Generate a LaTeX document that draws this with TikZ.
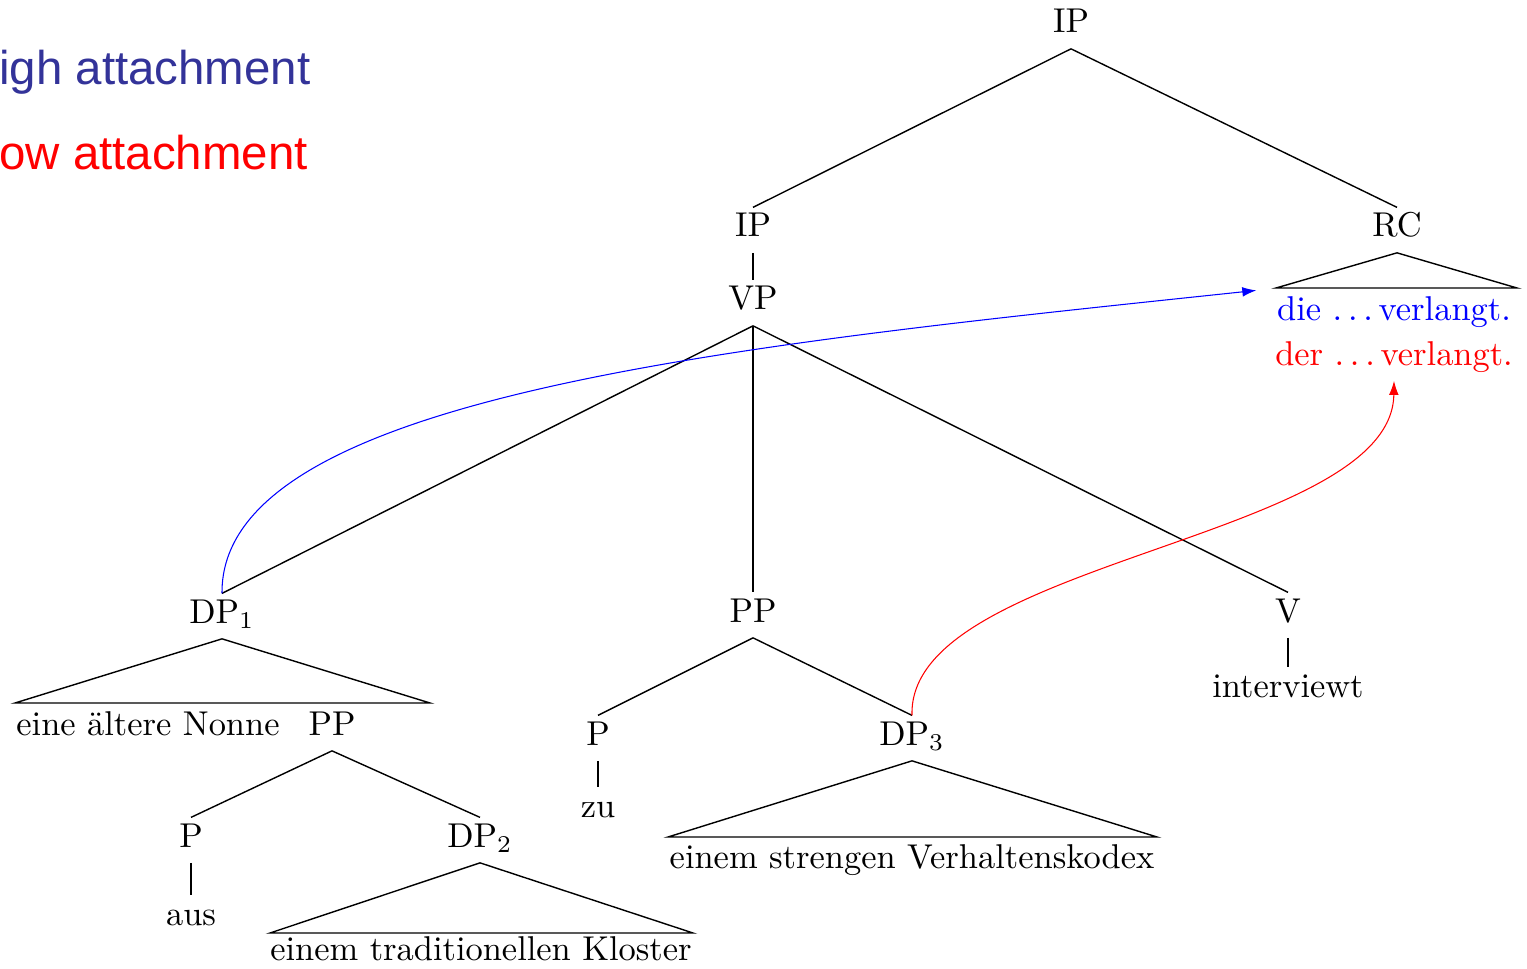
\documentclass[tikz,border=0pt]{standalone}
\usepackage{fontspec}
\newfontfamily\arialfont{Liberation Sans}
\usetikzlibrary{arrows.meta}
\definecolor{hiblue}{HTML}{333399}
\newcommand\threedots{.\kern1.67pt.\kern1.67pt.\kern1.67pt}
\begin{document}
\begin{tikzpicture}[x=0.02cm,y=-0.02cm,
  cat/.style={scale=1.96, anchor=base, inner sep=1.5pt, text height=6.9pt, text depth=2.9pt},
  edge/.style={line width=0.8pt},
  hilink/.style={blue, line width=0.6pt, -{Latex[length=8pt,width=5.5pt]}},
  lolink/.style={red, line width=0.6pt, -{Latex[length=8pt,width=5.5pt]}},
  heading/.style={anchor=base west, inner sep=0pt, font=\arialfont\fontsize{27}{32}\selectfont}]
\useasboundingbox (0,0) rectangle (1527,969);
\node[heading, text=hiblue] (high) at (-1,85) {igh attachment};
\node[heading, text=red] (low) at (-1,170) {ow attachment};

% nodes
\node[cat] (IP0) at (1071,33) {IP};
\node[cat] (IP1) at (753,237) {IP};
\node[cat] (VP) at (753,310) {VP};
\node[cat] (RC) at (1397,237) {RC};
\node[cat, text=blue] (die) at (1394,320) {die \threedots verlangt.};
\node[cat, text=red] (der) at (1394,365) {der \threedots verlangt.};
\node[cat] (DP1) at (222,623) {DP$_1$};
\node[cat] (nonne) at (148,735) {eine ältere Nonne};
\node[cat] (PP2) at (332,735) {PP};
\node[cat] (P2) at (191,847) {P};
\node[cat] (aus) at (191,925) {aus};
\node[cat] (DP2) at (480,847) {DP$_2$};
\node[cat] (kloster) at (481,960) {einem traditionellen Kloster};
\node[cat] (PP1) at (753,622) {PP};
\node[cat] (P1) at (598,745) {P};
\node[cat] (zu) at (598,817) {zu};
\node[cat] (DP3) at (912,745) {DP$_3$};
\node[cat] (kodex) at (912,868) {einem strengen Verhaltenskodex};
\node[cat] (V) at (1288,622) {V};
\node[cat] (interviewt) at (1288,697) {interviewt};

% triangle corners
\coordinate (rcl) at (1276,288);
\coordinate (rcr) at (1517,288);
\coordinate (d1l) at (15,703);
\coordinate (d1r) at (430,703);
\coordinate (d2l) at (270,933);
\coordinate (d2r) at (693,933);
\coordinate (d3l) at (668,837);
\coordinate (d3r) at (1157,837);

% edges
\draw[edge] (IP0.south) -- (IP1.north);
\draw[edge] (IP0.south) -- (RC.north);
\draw[edge] (IP1.south) -- (VP.north);
\draw[edge] (VP.south) -- (DP1.north);
\draw[edge] (VP.south) -- (PP1.north);
\draw[edge] (VP.south) -- (V.north);
\draw[edge] (V.south) -- (interviewt.north);
\draw[edge] (PP1.south) -- (P1.north);
\draw[edge] (PP1.south) -- (DP3.north);
\draw[edge] (P1.south) -- (zu.north);
\draw[edge] (PP2.south) -- (P2.north);
\draw[edge] (PP2.south) -- (DP2.north);
\draw[edge] (P2.south) -- (aus.north);

% triangles
\draw[edge] (RC.south) -- (rcl) -- (rcr) -- cycle;
\draw[edge] (DP1.south) -- (d1l) -- (d1r) -- cycle;
\draw[edge] (DP2.south) -- (d2l) -- (d2r) -- cycle;
\draw[edge] (DP3.south) -- (d3l) -- (d3r) -- cycle;

% attachment arrows
\draw[hilink] (DP1.north) .. controls (220,395) and (740,345) .. ([xshift=-0.3cm]die.north west);
\draw[lolink] (DP3.north) .. controls (907,560) and (1392,540) .. (der.south);
\end{tikzpicture}
\end{document}
